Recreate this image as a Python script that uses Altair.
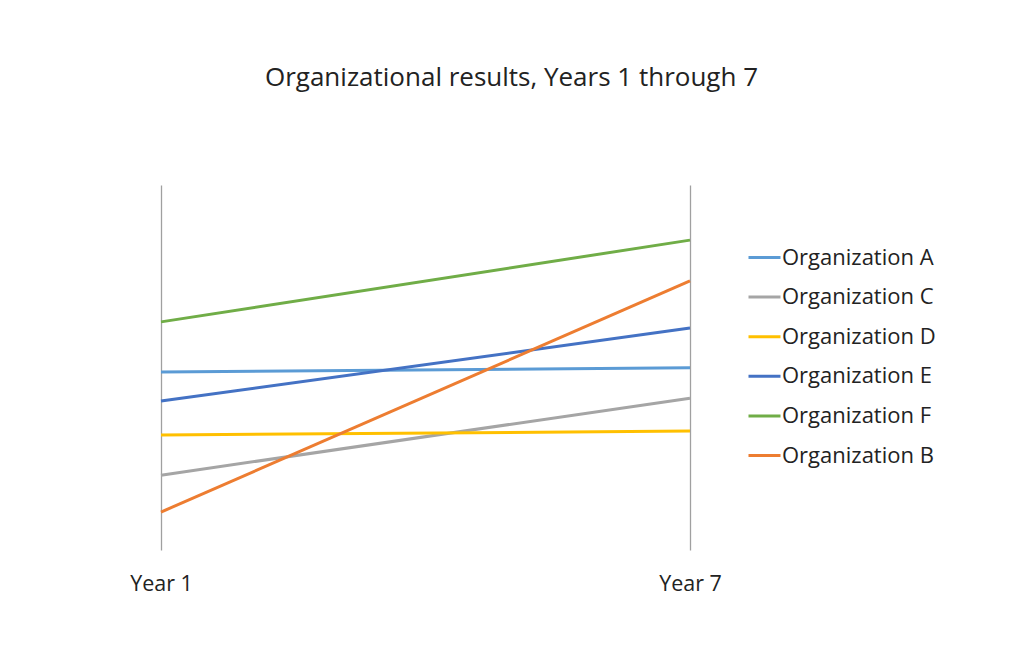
import altair as alt
import pandas as pd

orgs = ["Organization A", "Organization C", "Organization D",
        "Organization E", "Organization F", "Organization B"]
years = ["Year 1", "Year 7"]
year1_values = [48.8, 20.5, 31.5, 40.8, 62.5, 10.4]
year7_values = [49.9, 41.6, 32.6, 60.8, 84.9, 73.7]
colors = ["#5B9BD5", "#A5A5A5", "#FFC000", "#4472C4", "#70AD47", "#ED7D31"]

rows = []
for o, a, b in zip(orgs, year1_values, year7_values):
    rows.append({"org": o, "year": years[0], "value": a})
    rows.append({"org": o, "year": years[1], "value": b})
df = pd.DataFrame(rows)

FONT = "Open Sans"

chart = alt.Chart(df).mark_line(strokeWidth=3).encode(
    x=alt.X("year:N", sort=years,
            scale=alt.Scale(type="point", padding=0),
            axis=alt.Axis(title=None, labelAngle=0, domain=False, ticks=False,
                          grid=True, gridColor="#A0A0A0", gridWidth=1.3,
                          labelFontSize=21.5, labelFont=FONT, labelColor="#222222",
                          labelPadding=23)),
    y=alt.Y("value:Q", scale=alt.Scale(domain=[0, 100]), axis=None),
    color=alt.Color("org:N", sort=orgs,
                    scale=alt.Scale(domain=orgs, range=colors),
                    legend=alt.Legend(title=None, orient="none", legendX=586, legendY=55,
                                      symbolType="stroke", symbolSize=1024,
                                      symbolStrokeWidth=3, labelOffset=0,
                                      labelFontSize=22, labelFont=FONT,
                                      labelColor="#222222", rowPadding=10.6)),
    order=alt.Order("year:N"),
).properties(
    width=529, height=365,
    title=alt.TitleParams("Organizational results, Years 1 through 7",
                          font=FONT, fontSize=26, fontWeight="normal",
                          color="#222222", anchor="middle", dx=86, offset=94),
    autosize=alt.AutoSizeParams(type="none"),
    padding={"left": 153, "top": 177, "right": 310, "bottom": 90},
).configure_view(stroke=None)

chart.save("out.html", embed_options={"renderer": "svg", "actions": False})
